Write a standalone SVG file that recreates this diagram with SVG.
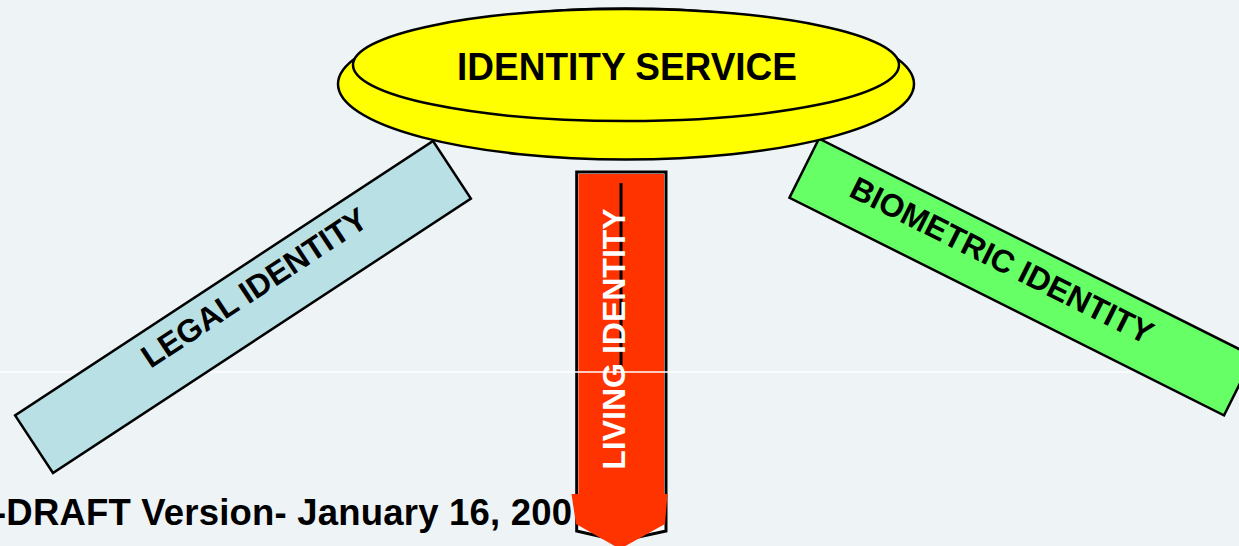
<svg xmlns="http://www.w3.org/2000/svg" width="1239" height="546" viewBox="0 0 1239 546">
<style>
.lbl{font-family:"Liberation Sans",Arial,sans-serif;font-weight:bold;}
.box{stroke:#000;stroke-width:2.5;}
</style>
<rect x="0" y="0" width="1239" height="546" fill="#EEF3F6"/>
<g id="footer">
<text class="lbl" x="-6" y="525" font-size="36.5" fill="#000" textLength="578" lengthAdjust="spacing">-DRAFT Version- January 16, 200</text>
</g>
<g id="living-identity">
<polygon points="576.7,172 666,172 666,531 620,541 576.7,531" fill="#FFFFFF" stroke="#000" stroke-width="3"/>
<polygon points="578.5,174 664,174 664,494 667.5,494 665,524 620,549 576,524 571.5,494 578.5,494" fill="#FF3300"/>
<line x1="621" y1="183" x2="621" y2="372" stroke="#000" stroke-width="3"/>
<text class="lbl" transform="translate(625,339) rotate(-90)" x="0" y="0" font-size="32" fill="#FFFFFF" text-anchor="middle">LIVING IDENTITY</text>
</g>
<line x1="0" y1="372" x2="1239" y2="372" stroke="#FFFFFF" stroke-width="1.5"/>
<g id="legal-identity" transform="translate(243,307) rotate(-33.3)">
<rect class="box" x="-250" y="-34.5" width="500" height="69" fill="#B9E0E4"/>
<text class="lbl" x="20" y="1" font-size="32" fill="#000" text-anchor="middle">LEGAL IDENTITY</text>
</g>
<g id="biometric-identity" transform="translate(1021.5,277) rotate(26.6)">
<rect class="box" x="-243" y="-33" width="486" height="66" fill="#66FF66"/>
<text class="lbl" x="-25" y="5" font-size="32" fill="#000" text-anchor="middle">BIOMETRIC IDENTITY</text>
</g>
<g id="identity-service">
<ellipse cx="626" cy="84" rx="288" ry="75.5" fill="#FFFF00" stroke="#000" stroke-width="2.5"/>
<ellipse cx="626" cy="65" rx="273" ry="56" fill="#FFFF00" stroke="#000" stroke-width="2.5"/>
<text class="lbl" x="627" y="80" font-size="38" fill="#000" text-anchor="middle" textLength="340" lengthAdjust="spacingAndGlyphs">IDENTITY SERVICE</text>
</g>
</svg>
